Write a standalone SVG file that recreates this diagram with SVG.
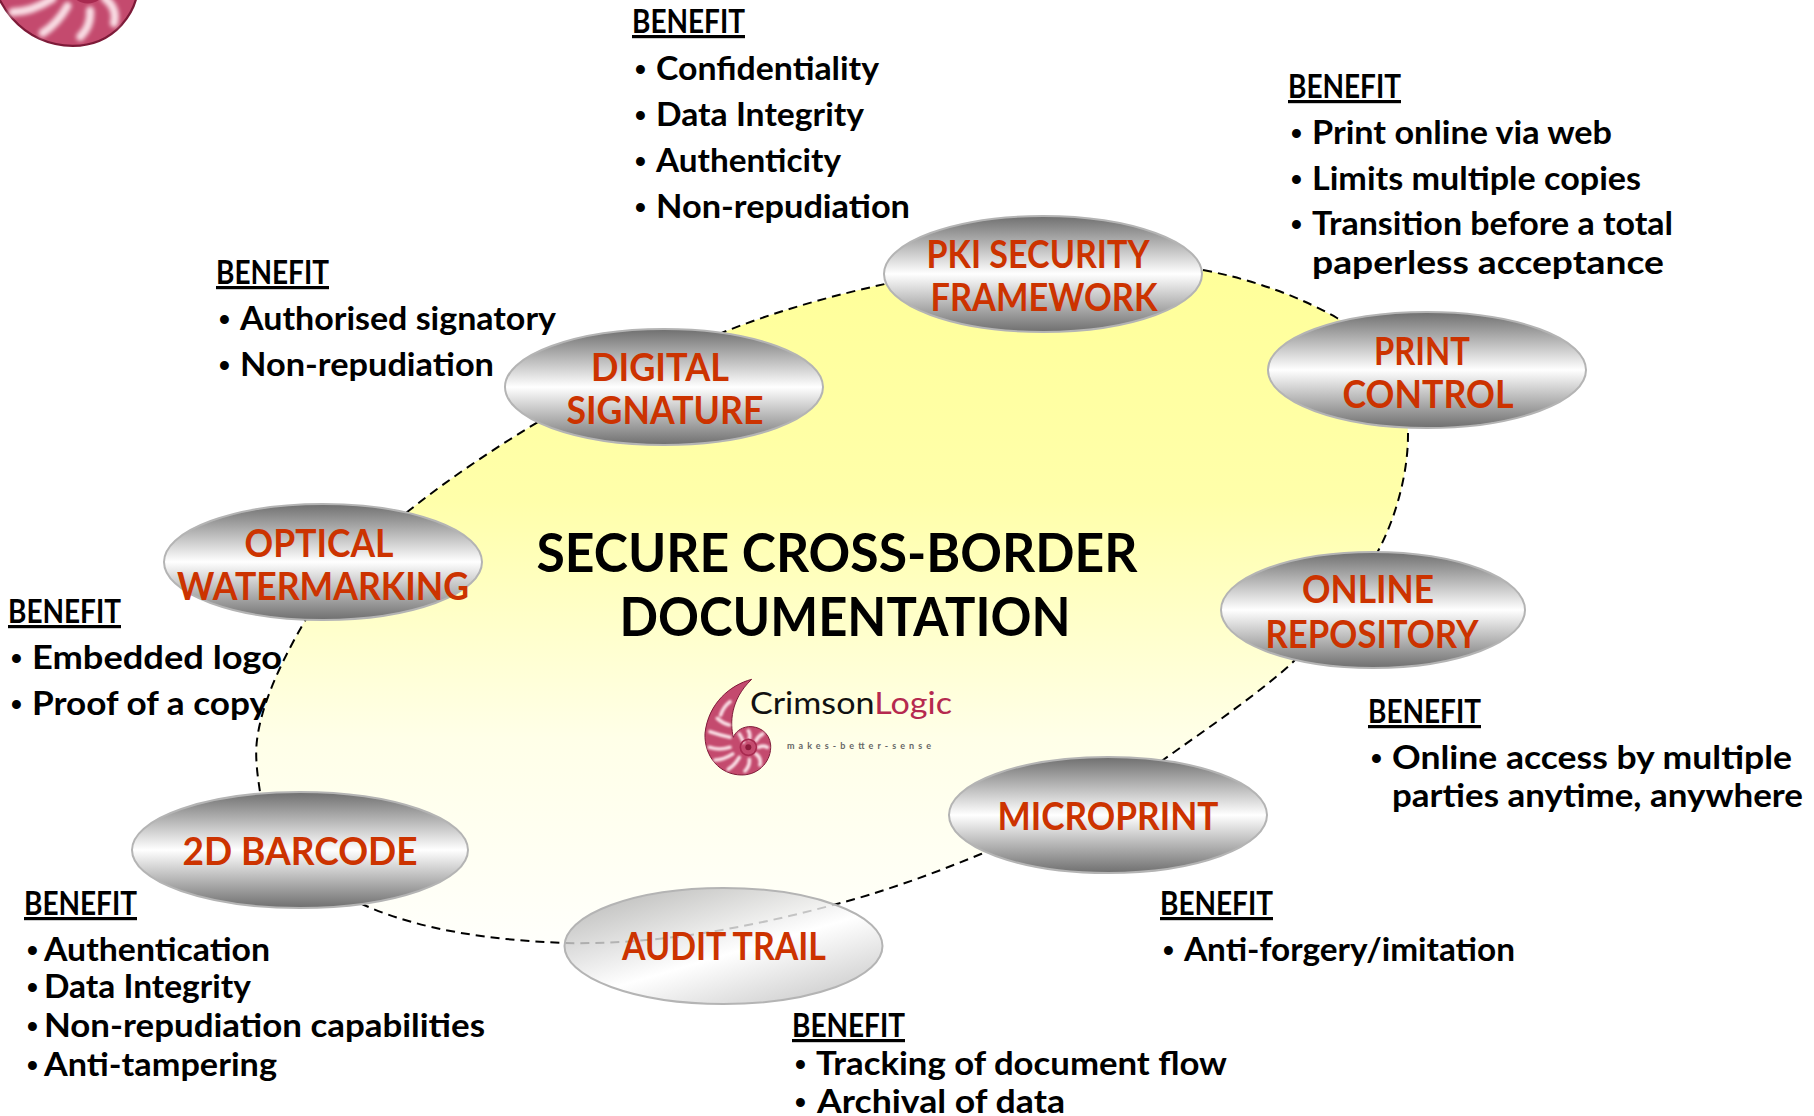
<svg xmlns="http://www.w3.org/2000/svg" width="1814" height="1116" viewBox="0 0 1814 1116">
<style>
text{font-family:"Lato","Noto Sans","Liberation Sans",sans-serif;font-weight:700}
.b{font-size:33px;fill:#000}
.d{font-family:"Liberation Sans",sans-serif;font-size:31px}
.h{font-size:32px;fill:#000;text-decoration:underline}
.n{font-size:38px;fill:#cc3300;text-anchor:middle}
.t{font-size:53px;fill:#000;text-anchor:middle}
.e{fill:url(#g);stroke:#b4b4b4;stroke-width:2}
</style>
<defs>
<linearGradient id="y" x1="0" y1="0" x2="0" y2="1"><stop offset="0" stop-color="#ffff99"/><stop offset=".35" stop-color="#ffffaa"/><stop offset=".7" stop-color="#ffffe8"/><stop offset="1" stop-color="#fffffb"/></linearGradient>
<linearGradient id="g" x1="0" y1="0" x2="0" y2="1"><stop offset="0" stop-color="#6f6f6f"/><stop offset=".5" stop-color="#ffffff"/><stop offset="1" stop-color="#6f6f6f"/></linearGradient>
<linearGradient id="a" x1="0.1" y1="0" x2="0.9" y2="1"><stop offset="0" stop-color="#aaaaaa"/><stop offset=".55" stop-color="#ffffff"/><stop offset="1" stop-color="#bbbbbb"/></linearGradient>
<filter id="s" x="-10%" y="-10%" width="120%" height="120%"><feGaussianBlur stdDeviation="2.5"/></filter>
<g id="shell">
<path d="M215 58C150 75 85 130 75 220C72 290 120 345 185 345C240 345 275 300 272 255C268 215 235 198 205 200C180 203 165 218 160 232C150 190 150 120 215 58Z" fill="#c44a6e" stroke="#7d1a38" stroke-width="3"/>
<g fill="none" stroke="#f9dde4" stroke-width="11" stroke-linecap="round" filter="url(#s)">
<path d="M150 125Q130 140 122 165M112 175Q128 190 148 195M90 215Q120 225 150 232M88 262Q118 272 150 262M105 300Q130 300 158 282M145 328Q165 315 178 292M195 333Q210 318 208 298M240 315Q245 295 228 282M262 262Q250 255 235 262M248 222Q235 228 228 242M205 212Q212 222 208 236M178 222Q185 232 190 246"/>
</g>
<circle cx="205" cy="262" r="24" fill="none" stroke="#a82a50" stroke-width="5"/>
<circle cx="205" cy="262" r="9" fill="#8c1c3c"/>
</g>
</defs>
<rect width="1814" height="1116" fill="#fff"/>
<g id="connectors">
<path d="M1203 270C1255 280 1300 297 1337 318C1385 345 1408 385 1408 435C1408 475 1395 520 1377 553C1350 595 1320 635 1290 665C1250 700 1205 730 1163 760C1105 800 1040 830 981 854C930 875 880 893 833 905C740 930 650 945 564 943C490 940 420 930 364 905C310 880 270 840 260 792C257 772 255 756 257 740C262 700 285 655 306 619C335 575 370 540 411 509C450 478 495 448 538 422C600 385 665 355 729 330C780 310 835 295 885 284C990 265 1100 250 1203 270Z" fill="url(#y)" stroke="#000" stroke-width="2" stroke-dasharray="9 6"/>
</g>
<use id="corner-shell" href="#shell" transform="translate(-66 -213) scale(.75)"/>
<g id="title">
<text class="t" x="837" y="572" textLength="601" lengthAdjust="spacingAndGlyphs">SECURE CROSS-BORDER</text>
<text class="t" x="845" y="636" textLength="451" lengthAdjust="spacingAndGlyphs">DOCUMENTATION</text>
</g>
<g id="logo">
<use href="#shell" transform="translate(680 660) scale(.3333)"/>
<text x="750" y="714" textLength="202" lengthAdjust="spacingAndGlyphs" style="font-size:30px;font-weight:400;fill:#111">Crimson<tspan style="fill:#b5294f">Logic</tspan></text>
<text x="787" y="749" style="font-size:9px;fill:#666" textLength="144">makes-better-sense</text>
</g>
<g id="node-pki"><ellipse class="e" cx="1043" cy="274" rx="159" ry="58"/><text class="n" x="1038" y="268" textLength="223" lengthAdjust="spacingAndGlyphs">PKI SECURITY</text><text class="n" x="1044" y="311" textLength="227" lengthAdjust="spacingAndGlyphs">FRAMEWORK</text></g>
<g id="node-print"><ellipse class="e" cx="1427" cy="370" rx="159" ry="58"/><text class="n" x="1422" y="365" textLength="96" lengthAdjust="spacingAndGlyphs">PRINT</text><text class="n" x="1428" y="408" textLength="171" lengthAdjust="spacingAndGlyphs">CONTROL</text></g>
<g id="node-digital"><ellipse class="e" cx="664" cy="387" rx="159" ry="58"/><text class="n" x="660" y="381" textLength="138" lengthAdjust="spacingAndGlyphs">DIGITAL</text><text class="n" x="665" y="424" textLength="197" lengthAdjust="spacingAndGlyphs">SIGNATURE</text></g>
<g id="node-optical"><ellipse class="e" cx="323" cy="562" rx="159" ry="58"/><text class="n" x="319" y="557" textLength="149" lengthAdjust="spacingAndGlyphs">OPTICAL</text><text class="n" x="323" y="600" textLength="292" lengthAdjust="spacingAndGlyphs">WATERMARKING</text></g>
<g id="node-online"><ellipse class="e" cx="1373" cy="610" rx="152" ry="58"/><text class="n" x="1368" y="603" textLength="132" lengthAdjust="spacingAndGlyphs">ONLINE</text><text class="n" x="1372" y="648" textLength="213" lengthAdjust="spacingAndGlyphs">REPOSITORY</text></g>
<g id="node-micro"><ellipse class="e" cx="1108" cy="815" rx="159" ry="58"/><text class="n" x="1108" y="830" textLength="221" lengthAdjust="spacingAndGlyphs">MICROPRINT</text></g>
<g id="node-barcode"><ellipse class="e" cx="300" cy="850" rx="168" ry="58"/><text class="n" x="300" y="865" textLength="235" lengthAdjust="spacingAndGlyphs">2D BARCODE</text></g>
<g id="node-audit"><ellipse cx="723.5" cy="946" rx="159" ry="58" fill="url(#a)" fill-opacity=".82" stroke="#b4b4b4" stroke-width="2"/><text class="n" x="724" y="960" textLength="204" lengthAdjust="spacingAndGlyphs">AUDIT TRAIL</text></g>
<g id="benefit-pki">
<text class="h" x="632" y="33" textLength="113" lengthAdjust="spacingAndGlyphs">BENEFIT</text>
<text class="b" y="80"><tspan class="d" x="635">•</tspan><tspan x="656" textLength="223" lengthAdjust="spacingAndGlyphs">Confidentiality</tspan></text>
<text class="b" y="126"><tspan class="d" x="635">•</tspan><tspan x="656" textLength="208" lengthAdjust="spacingAndGlyphs">Data Integrity</tspan></text>
<text class="b" y="172"><tspan class="d" x="635">•</tspan><tspan x="656" textLength="185" lengthAdjust="spacingAndGlyphs">Authenticity</tspan></text>
<text class="b" y="218"><tspan class="d" x="635">•</tspan><tspan x="656" textLength="254" lengthAdjust="spacingAndGlyphs">Non-repudiation</tspan></text>
</g>
<g id="benefit-print">
<text class="h" x="1288" y="98" textLength="113" lengthAdjust="spacingAndGlyphs">BENEFIT</text>
<text class="b" y="144"><tspan class="d" x="1291">•</tspan><tspan x="1312" textLength="300" lengthAdjust="spacingAndGlyphs">Print online via web</tspan></text>
<text class="b" y="190"><tspan class="d" x="1291">•</tspan><tspan x="1312" textLength="329" lengthAdjust="spacingAndGlyphs">Limits multiple copies</tspan></text>
<text class="b" y="235"><tspan class="d" x="1291">•</tspan><tspan x="1312" textLength="361" lengthAdjust="spacingAndGlyphs">Transition before a total</tspan></text>
<text class="b" x="1312" y="274" textLength="352" lengthAdjust="spacingAndGlyphs">paperless acceptance</text>
</g>
<g id="benefit-digital">
<text class="h" x="216" y="284" textLength="113" lengthAdjust="spacingAndGlyphs">BENEFIT</text>
<text class="b" y="330"><tspan class="d" x="219">•</tspan><tspan x="240" textLength="316" lengthAdjust="spacingAndGlyphs">Authorised signatory</tspan></text>
<text class="b" y="376"><tspan class="d" x="219">•</tspan><tspan x="240" textLength="254" lengthAdjust="spacingAndGlyphs">Non-repudiation</tspan></text>
</g>
<g id="benefit-optical">
<text class="h" x="8" y="623" textLength="113" lengthAdjust="spacingAndGlyphs">BENEFIT</text>
<text class="b" y="669"><tspan class="d" x="11">•</tspan><tspan x="32" textLength="250" lengthAdjust="spacingAndGlyphs">Embedded logo</tspan></text>
<text class="b" y="715"><tspan class="d" x="11">•</tspan><tspan x="32" textLength="236" lengthAdjust="spacingAndGlyphs">Proof of a copy</tspan></text>
</g>
<g id="benefit-online">
<text class="h" x="1368" y="723" textLength="113" lengthAdjust="spacingAndGlyphs">BENEFIT</text>
<text class="b" y="769"><tspan class="d" x="1371">•</tspan><tspan x="1392" textLength="400" lengthAdjust="spacingAndGlyphs">Online access by multiple</tspan></text>
<text class="b" x="1392" y="807" textLength="411" lengthAdjust="spacingAndGlyphs">parties anytime, anywhere</text>
</g>
<g id="benefit-micro">
<text class="h" x="1160" y="915" textLength="113" lengthAdjust="spacingAndGlyphs">BENEFIT</text>
<text class="b" y="961"><tspan class="d" x="1163">•</tspan><tspan x="1184" textLength="331" lengthAdjust="spacingAndGlyphs">Anti-forgery/imitation</tspan></text>
</g>
<g id="benefit-barcode">
<text class="h" x="24" y="915" textLength="113" lengthAdjust="spacingAndGlyphs">BENEFIT</text>
<text class="b" y="961"><tspan class="d" x="27">•</tspan><tspan x="44" textLength="226" lengthAdjust="spacingAndGlyphs">Authentication</tspan></text>
<text class="b" y="998"><tspan class="d" x="27">•</tspan><tspan x="44" textLength="207" lengthAdjust="spacingAndGlyphs">Data Integrity</tspan></text>
<text class="b" y="1037"><tspan class="d" x="27">•</tspan><tspan x="44" textLength="441" lengthAdjust="spacingAndGlyphs">Non-repudiation capabilities</tspan></text>
<text class="b" y="1076"><tspan class="d" x="27">•</tspan><tspan x="44" textLength="233" lengthAdjust="spacingAndGlyphs">Anti-tampering</tspan></text>
</g>
<g id="benefit-audit">
<text class="h" x="792" y="1037" textLength="113" lengthAdjust="spacingAndGlyphs">BENEFIT</text>
<text class="b" y="1075"><tspan class="d" x="795">•</tspan><tspan x="816" textLength="411" lengthAdjust="spacingAndGlyphs">Tracking of document flow</tspan></text>
<text class="b" y="1113"><tspan class="d" x="795">•</tspan><tspan x="817" textLength="248" lengthAdjust="spacingAndGlyphs">Archival of data</tspan></text>
</g>
</svg>
